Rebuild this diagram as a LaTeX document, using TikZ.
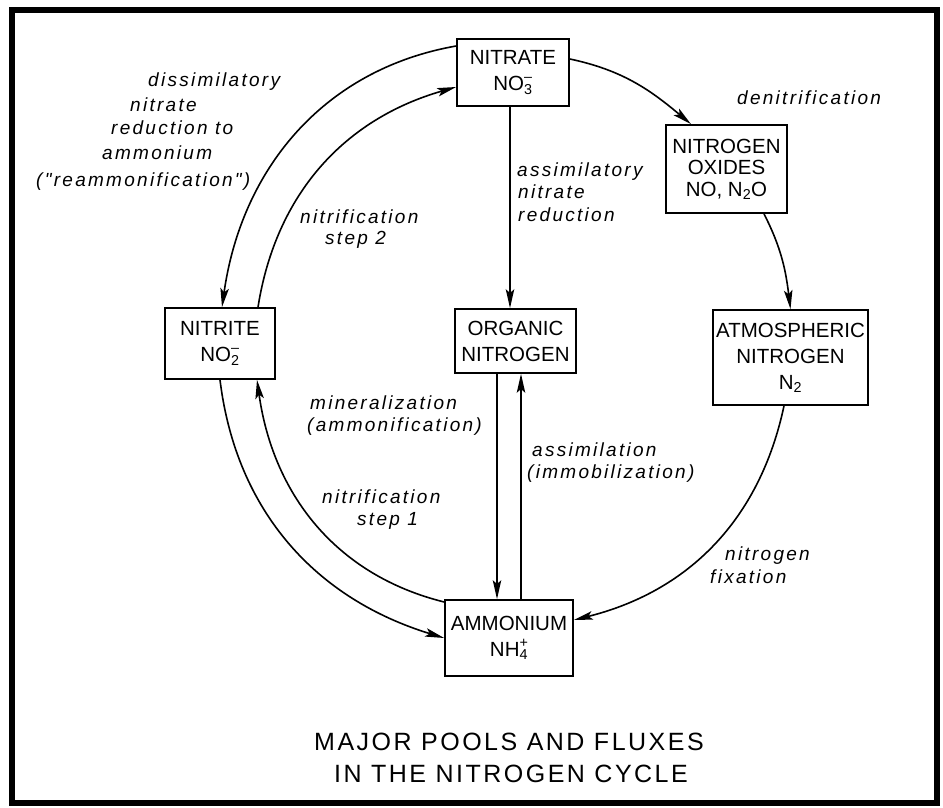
\documentclass[tikz,border=0pt]{standalone}
\usepackage{fontspec}
\setmainfont{Liberation Sans}
\newfontfamily\lblfont[LetterSpace=12]{Liberation Sans}
\newfontfamily\ttlfont[LetterSpace=10]{Liberation Sans}
\usetikzlibrary{arrows.meta}
\begin{document}
\begin{tikzpicture}[x=1pt,y=-1pt,
  box/.style={draw,line width=1.7pt,inner sep=0pt,align=center,font=\fontsize{20.5}{26}\selectfont},
  arr/.style={line width=1.6pt,-{Stealth[length=19pt,width=8.5pt,inset=4pt]}},
  lbl/.style={font=\lblfont\itshape\fontsize{19}{22}\selectfont,inner sep=0pt,anchor=base west},
  ttl/.style={font=\ttlfont\fontsize{25}{30}\selectfont,inner sep=0pt,anchor=base}]
\useasboundingbox (0,0) rectangle (943,808);
\draw[line width=6pt] (12,10) rectangle (937,803);

% pools
\node[box,minimum width=112pt,minimum height=67pt] (nitrate) at (513,72.5)
  {NITRATE\\NO\rlap{\raisebox{2pt}{\textsuperscript{--}}}\textsubscript{3}};
\node[box,minimum width=121pt,minimum height=88pt,font=\fontsize{20.5}{21.5}\selectfont] (oxides) at (726.5,169)
  {NITROGEN\\OXIDES\\NO, N\textsubscript{2}O};
\node[box,minimum width=110pt,minimum height=71pt] (nitrite) at (220,343.5)
  {NITRITE\\NO\rlap{\raisebox{2pt}{\textsuperscript{--}}}\textsubscript{2}};
\node[box,minimum width=121pt,minimum height=64pt] (organic) at (515.5,341)
  {ORGANIC\\NITROGEN};
\node[box,minimum width=155pt,minimum height=95pt] (atmos) at (790.5,357.5)
  {ATMOSPHERIC\\NITROGEN\\N\textsubscript{2}};
\node[box,minimum width=128pt,minimum height=76pt] (ammonium) at (509,638)
  {AMMONIUM\\NH\rlap{\raisebox{2pt}{\textsuperscript{+}}}\textsubscript{4}};

% fluxes
\draw[arr] ([yshift=26.5pt]nitrate.west) to[out=190,in=82] ([xshift=2pt]nitrite.north);
\draw[arr] ([xshift=38pt]nitrite.north) to[out=81,in=196] ([yshift=-14.5pt]nitrate.west);
\draw[arr] ([yshift=13.5pt]nitrate.east) to[out=348,in=140] ([xshift=-35.5pt]oxides.north);
\draw[arr] ([xshift=37.5pt]oxides.south) to[out=297,in=97] (atmos.north);
\draw[arr] ([xshift=-6.5pt]atmos.south) to[out=258,in=14] ([yshift=18pt]ammonium.east);
\draw[arr] (nitrite.south) to[out=277,in=163] (ammonium.west);
\draw[arr] ([yshift=36pt]ammonium.west) to[out=166,in=278] ([xshift=37pt]nitrite.south);
\draw[arr] ([xshift=-3pt]nitrate.south) -- ([xshift=-5.5pt]organic.north);
\draw[arr] ([xshift=-18.5pt]organic.south) -- ([xshift=-12pt]ammonium.north);
\draw[arr] ([xshift=12pt]ammonium.north) -- ([xshift=5.5pt]organic.south);

% labels
\node[lbl] (dnra1) at (148,87) {dissimilatory};
\node[lbl] (dnra2) at (130,111) {nitrate};
\node[lbl] (dnra3) at (111,135) {reduction to};
\node[lbl] (dnra4) at (102,159) {ammonium};
\node[lbl] (dnra5) at (36,186) {("reammonification")};
\node[lbl] (nit2a) at (300,223) {nitrification};
\node[lbl] (nit2b) at (325,244) {step 2};
\node[lbl] (denit) at (737,104) {denitrification};
\node[lbl] (anr1) at (517,176) {assimilatory};
\node[lbl] (anr2) at (518,198) {nitrate};
\node[lbl] (anr3) at (518,221) {reduction};
\node[lbl] (min1) at (310,409) {mineralization};
\node[lbl] (min2) at (307,431) {(ammonification)};
\node[lbl] (nit1a) at (322,503) {nitrification};
\node[lbl] (nit1b) at (357,525) {step 1};
\node[lbl] (ass1) at (532,456) {assimilation};
\node[lbl] (ass2) at (527,478) {(immobilization)};
\node[lbl] (fix1) at (725,560) {nitrogen};
\node[lbl] (fix2) at (710,583) {fixation};

% title
\node[ttl] (title1) at (509,750) {MAJOR POOLS AND FLUXES};
\node[ttl] (title2) at (511,782) {IN THE NITROGEN CYCLE};
\end{tikzpicture}
\end{document}
